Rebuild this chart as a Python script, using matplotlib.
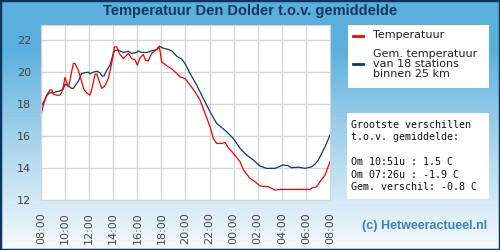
import numpy as np
import matplotlib.pyplot as plt
from matplotlib.patches import Rectangle

# uren na 08:00
uren = [0, 0.19, 0.47, 0.75, 0.89, 1.02, 1.3, 1.58, 1.72, 1.85, 1.99, 2.13, 2.27, 2.41,
        2.68, 2.82, 3.1, 3.38, 3.57, 3.79, 4.07, 4.21, 4.49, 4.63, 4.9, 5.04, 5.32, 5.59,
        5.87, 6.09, 6.29, 6.5, 6.84, 7.25, 7.53, 7.81, 8.0, 8.22, 8.5, 8.69, 8.91, 9.19,
        9.61, 9.83, 10.02, 10.44, 10.86, 11.27, 11.54, 11.96, 12.38, 12.79, 13.21, 13.62,
        14.04, 14.31, 14.59, 15.03, 15.28, 15.53, 15.97, 16.53, 16.81, 17.36, 17.77, 18.19,
        18.88, 19.44, 19.85, 22.34, 22.48, 22.9, 23.17, 23.59, 24.0]
temp = [17.3, 17.94, 18.56, 18.88, 18.9, 18.62, 18.56, 18.56, 18.75, 19.08, 19.67, 19.35,
        19.08, 19.5, 20.54, 20.55, 20.12, 19.4, 18.9, 18.71, 18.56, 18.9, 19.88, 19.88,
        19.29, 18.98, 19.15, 19.6, 20.54, 21.58, 21.58, 21.17, 20.85, 21.17, 20.85, 20.77,
        20.44, 20.9, 21.1, 20.73, 20.7, 21.17, 21.42, 21.58, 20.64, 20.4, 20.2, 19.92,
        19.71, 19.6, 19.19, 18.77, 18.25, 17.42, 16.58, 15.85, 15.54, 15.54, 15.6, 15.3,
        14.92, 14.4, 13.88, 13.35, 13.15, 12.88, 12.83, 12.62, 12.66, 12.66, 12.75, 12.83,
        13.15, 13.56, 14.4]

uren_gem = [0, 0.19, 0.47, 0.69, 1.02, 1.3, 1.58, 1.85, 1.99, 2.27, 2.54, 2.68, 3.1, 3.38,
            3.65, 3.93, 4.07, 4.35, 4.63, 4.9, 5.04, 5.23, 5.45, 5.73, 6.01, 6.15, 6.43,
            6.84, 7.25, 7.53, 7.94, 8.08, 8.36, 8.77, 9.19, 9.61, 9.83, 10.16, 10.57, 10.86,
            11.27, 11.68, 11.96, 12.38, 12.93, 13.48, 14.04, 14.59, 15.0, 15.42, 15.97,
            16.53, 17.08, 17.64, 18.19, 18.74, 19.44, 20.1, 20.5, 20.8, 21.4, 21.93, 22.48,
            22.76, 23.03, 23.31, 23.59, 24.0]
temp_gem = [17.83, 18.1, 18.5, 18.7, 18.72, 18.78, 18.83, 18.94, 19.25, 19.15, 18.98, 18.98,
            19.44, 19.92, 19.96, 20.0, 19.9, 20.0, 20.06, 19.96, 19.77, 19.75, 20.1, 20.44,
            21.17, 21.37, 21.37, 21.23, 21.3, 21.17, 21.23, 21.33, 21.23, 21.23, 21.33,
            21.42, 21.62, 21.5, 21.42, 21.33, 21.0, 20.81, 20.54, 19.92, 19.19, 18.35,
            17.52, 16.79, 16.54, 16.27, 15.85, 15.23, 14.81, 14.5, 14.12, 13.98, 13.98,
            14.19, 14.15, 14.02, 14.05, 13.98, 14.08, 14.25, 14.5, 14.92, 15.33, 16.06]

tijd_labels = ["08:00", "10:00", "12:00", "14:00", "16:00", "18:00", "20:00",
               "22:00", "00:00", "02:00", "04:00", "06:00", "08:00"]
y_ticks = [12, 14, 16, 18, 20, 22]

rood = "#ff0000"
blauw = "#0b3b66"

W, H = 500, 250
fig = plt.figure(figsize=(5, 2.5), dpi=100)

# achtergrond verloop
bg = fig.add_axes([0, 0, 1, 1], zorder=0)
top = np.array([90, 175, 220]) / 255
bot = np.array([246, 250, 253]) / 255
y = np.linspace(0, 1, 250)
t = np.clip((y - 0.2) / 0.8, 0, 1) ** 0.9
grad = top[None, :] * (1 - t[:, None]) + bot[None, :] * t[:, None]
bg.imshow(grad[:, None, :], aspect="auto", extent=[0, 1, 1, 0])
bg.set_xlim(0, 1)
bg.set_ylim(1, 0)
bg.axis("off")
bg.add_patch(Rectangle((0, 0), 1, 1, fill=False, edgecolor="#0a3560", lw=2.5, clip_on=False))

fig.text(0.5, 1 - 11 / H, "Temperatuur Den Dolder t.o.v. gemiddelde", ha="center", va="center",
         fontsize=10.5, fontweight="bold", color="#17375e", family="Liberation Sans")

# grafiek
ax = fig.add_axes([41 / W, 50 / H, 289 / W, 175 / H], zorder=2)
ax.plot(uren_gem, temp_gem, color=blauw, lw=0.9)
ax.plot(uren, temp, color=rood, lw=0.9)
ax.set_xlim(0, 24)
ax.set_ylim(12, 22.95)
ax.set_xticks(range(0, 25, 2))
ax.set_xticklabels(tijd_labels, rotation=90)
ax.set_yticks(y_ticks)
ax.tick_params(length=0, labelsize=8, labelcolor="#444444")
ax.tick_params(axis="x", pad=9)
ax.tick_params(axis="y", pad=7)
ax.grid(True, color="#d4d4d4", lw=0.9)
ax.set_axisbelow(True)
for s in ax.spines.values():
    s.set_color("#d4d4d4")

# legenda
lax = fig.add_axes([348 / W, 1 - 88 / H, 141 / W, 63 / H], zorder=2)
lax.set_xlim(0, 141)
lax.set_ylim(63, 0)
lax.set_xticks([])
lax.set_yticks([])
for s in lax.spines.values():
    s.set_visible(False)
lax.plot([5, 15], [10.5, 10.5], color=rood, lw=2)
lax.text(25, 10.5, "Temperatuur", va="center", fontsize=8, color="#222222")
lax.plot([5, 15], [39, 39], color=blauw, lw=2)
lax.text(25, 39, "Gem. temperatuur\nvan 18 stations\nbinnen 25 km", va="center",
         fontsize=8, color="#222222", linespacing=0.95)

# verschillen
tax = fig.add_axes([347 / W, 1 - 199 / H, 142 / W, 86 / H], zorder=2)
tax.set_xticks([])
tax.set_yticks([])
for s in tax.spines.values():
    s.set_visible(False)
tax.text(0.025, 0.5, "Grootste verschillen\nt.o.v. gemiddelde:\n\nOm 10:51u : 1.5 C\n"
         "Om 07:26u : -1.9 C\nGem. verschil: -0.8 C", transform=tax.transAxes,
         va="center", ha="left", family="DejaVu Sans Mono", fontsize=7.2,
         color="#111111", linespacing=1.3)

fig.text(487 / W, 1 - 226 / H, "(c) Hetweeractueel.nl", ha="right", va="center",
         fontsize=9, fontweight="bold", color="#3b82b0", family="Liberation Sans")

fig.savefig("out.png", dpi=100)
